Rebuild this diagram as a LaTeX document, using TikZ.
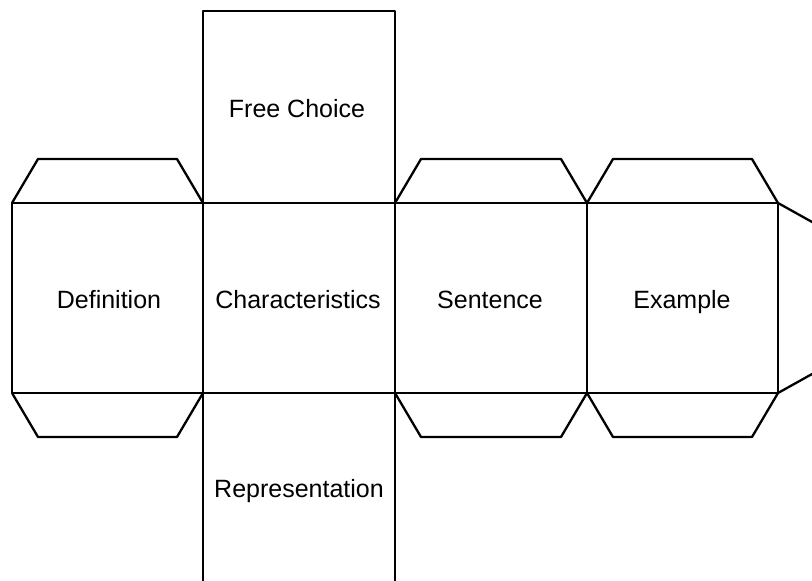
\documentclass[tikz,border=0pt]{standalone}
\usepackage{fontspec}
\setmainfont{Liberation Sans}
\begin{document}
\begin{tikzpicture}[x=1pt,y=-1pt,
  netline/.style={line width=2.3pt,black,line join=round},
  label/.style={font=\fontsize{25}{29}\selectfont,inner sep=0pt,anchor=base}]
\useasboundingbox (0,0) rectangle (812,581);
\begin{scope}
\clip (0,0) rectangle (812,581);
% main row squares
\draw[netline] (12,203) rectangle (778,393);
\foreach \x in {203,395,587} \draw[netline] (\x,203) -- (\x,393);
% top square (Free Choice)
\draw[netline] (203,203) -- (203,11) -- (395,11) -- (395,203);
% bottom square (Representation)
\draw[netline] (203,393) -- (203,590);
\draw[netline] (395,393) -- (395,590);
% top flaps
\foreach \a/\b in {12/203,395/587,587/778}
  \draw[netline] (\a,203) -- (\a+26,159) -- (\b-26,159) -- (\b,203);
% bottom flaps
\foreach \a/\b in {12/203,395/587,587/778}
  \draw[netline] (\a,393) -- (\a+26,437) -- (\b-26,437) -- (\b,393);
% right flap
\draw[netline] (778,203) -- (830,232);
\draw[netline] (778,393) -- (830,364);
\end{scope}
% labels
\node[label] (def) at (109,308) {Definition};
\node[label] (cha) at (298,308) {Characteristics};
\node[label] (sen) at (490,308) {Sentence};
\node[label] (exa) at (682,308) {Example};
\node[label] (fre) at (297,117) {Free Choice};
\node[label] (rep) at (299,497) {Representation};
\end{tikzpicture}
\end{document}
